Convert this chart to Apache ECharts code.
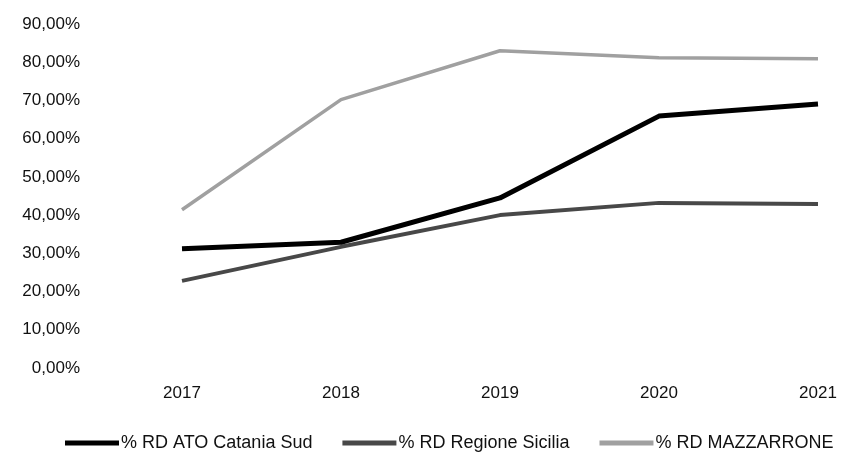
<!DOCTYPE html>
<html>
<head>
<meta charset="utf-8">
<script src="https://cdn.jsdelivr.net/npm/echarts@6/dist/echarts.min.js"></script>
<style>
  html, body { margin: 0; padding: 0; background: #fff; }
  #chart { width: 864px; height: 455px; }
</style>
</head>
<body>
<div id="chart"></div>
<script>
const years = ["2017", "2018", "2019", "2020", "2021"];
const atoCataniaSud = [31.2, 32.9, 44.5, 65.9, 69.1];
const regioneSicilia = [22.8, 31.7, 40.0, 43.2, 42.9];
const mazzarrone = [41.4, 70.2, 83.0, 81.2, 80.9];

const fmt = v => v.toFixed(2).replace(".", ",") + "%";

const chart = echarts.init(document.getElementById("chart"));
chart.setOption({
  animation: false,
  backgroundColor: "#fff",
  grid: { left: 182, right: 46, top: 24, bottom: 87 },
  legend: {
    top: 429,
    left: 60,
    icon: "rect",
    itemWidth: 54,
    itemHeight: 5,
    itemGap: 30,
    textStyle: { fontFamily: "Liberation Sans", fontSize: 18, color: "#111", padding: [0, 0, 0, -3] },
    data: ["% RD ATO Catania Sud", "% RD Regione Sicilia", "% RD MAZZARRONE"]
  },
  xAxis: {
    type: "category",
    data: years,
    boundaryGap: false,
    axisLine: { show: false },
    axisTick: { show: false },
    axisLabel: { margin: 17, fontFamily: "Liberation Sans", fontSize: 17, color: "#111" }
  },
  yAxis: {
    type: "value",
    min: 0,
    max: 90,
    interval: 10,
    splitLine: { show: false },
    axisLine: { show: false },
    axisTick: { show: false },
    axisLabel: {
      margin: 102,
      formatter: fmt,
      fontFamily: "Liberation Sans",
      fontSize: 17,
      color: "#111"
    }
  },
  series: [
    {
      name: "% RD ATO Catania Sud",
      type: "line",
      data: atoCataniaSud,
      showSymbol: false,
      z: 3,
      lineStyle: { color: "#000", width: 5 },
      itemStyle: { color: "#000" }
    },
    {
      name: "% RD Regione Sicilia",
      type: "line",
      data: regioneSicilia,
      showSymbol: false,
      z: 2,
      lineStyle: { color: "#484848", width: 4 },
      itemStyle: { color: "#484848" }
    },
    {
      name: "% RD MAZZARRONE",
      type: "line",
      data: mazzarrone,
      showSymbol: false,
      z: 1,
      lineStyle: { color: "#a0a0a0", width: 3.5 },
      itemStyle: { color: "#a0a0a0" }
    }
  ]
});
</script>
</body>
</html>
